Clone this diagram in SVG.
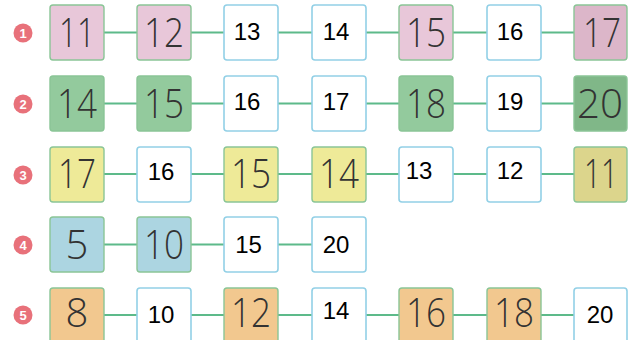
<svg xmlns="http://www.w3.org/2000/svg" width="636" height="340" viewBox="0 0 636 340">
<style>
.bg{fill:#ffffff}
.w rect{fill:#ffffff;stroke:#92d0e6;stroke-width:1.6}
.c rect{stroke:#8ac596;stroke-width:1.4}
.pk rect{fill:#e8c7d9}
.pk2 rect{fill:#dcb6c9}
.gr rect{fill:#93ca9d}
.gr2 rect{fill:#80b788}
.ye rect{fill:#eeea98}
.ye2 rect{fill:#dcd58c}
.bl rect{fill:#acd5e1}
.or rect{fill:#f2c88f}
.c text{font-family:"Open Sans","Liberation Sans",Arial,sans-serif;font-weight:300;font-size:40px;fill:#333;text-anchor:middle}
.w text{font-family:"Liberation Sans",Arial,sans-serif;font-size:24px;fill:#000;text-anchor:middle}
.lbl circle{fill:#e8717a}
.lbl text{font-family:"Liberation Sans",Arial,sans-serif;font-size:13px;font-weight:bold;fill:#fff;text-anchor:middle}
#connectors line{stroke:#5dba8a;stroke-width:2}
</style>
<rect class="bg" x="0" y="0" width="636" height="340"/>
<g id="connectors">
<line x1="104" y1="32.5" x2="137" y2="32.5"/><line x1="191" y1="32.5" x2="224" y2="32.5"/><line x1="278" y1="32.5" x2="312" y2="32.5"/><line x1="366" y1="32.5" x2="399" y2="32.5"/><line x1="453" y1="32.5" x2="487" y2="32.5"/><line x1="541" y1="32.5" x2="574" y2="32.5"/>
<line x1="104" y1="103.5" x2="137" y2="103.5"/><line x1="191" y1="103.5" x2="224" y2="103.5"/><line x1="278" y1="103.5" x2="312" y2="103.5"/><line x1="366" y1="103.5" x2="399" y2="103.5"/><line x1="453" y1="103.5" x2="487" y2="103.5"/><line x1="541" y1="103.5" x2="574" y2="103.5"/>
<line x1="104" y1="174" x2="137" y2="174"/><line x1="191" y1="174" x2="224" y2="174"/><line x1="278" y1="174" x2="312" y2="174"/><line x1="366" y1="174" x2="399" y2="174"/><line x1="453" y1="174" x2="487" y2="174"/><line x1="541" y1="174" x2="574" y2="174"/>
<line x1="104" y1="244.5" x2="137" y2="244.5"/><line x1="191" y1="244.5" x2="224" y2="244.5"/><line x1="278" y1="244.5" x2="312" y2="244.5"/>
<line x1="104" y1="315" x2="137" y2="315"/><line x1="191" y1="315" x2="224" y2="315"/><line x1="278" y1="315" x2="312" y2="315"/><line x1="366" y1="315" x2="399" y2="315"/><line x1="453" y1="315" x2="487" y2="315"/><line x1="541" y1="315" x2="574" y2="315"/>
</g>
<g class="lbl">
<g id="label1"><circle cx="23" cy="33" r="9.5"/><text x="23" y="37.5">1</text></g>
<g id="label2"><circle cx="23" cy="104" r="9.5"/><text x="23" y="108.5">2</text></g>
<g id="label3"><circle cx="23" cy="175" r="9.5"/><text x="23" y="179.5">3</text></g>
<g id="label4"><circle cx="23" cy="245" r="9.5"/><text x="23" y="249.5">4</text></g>
<g id="label5"><circle cx="23" cy="315" r="9.5"/><text x="23" y="319.5">5</text></g>
</g>
<!-- Row 1 -->
<g id="r1c1" class="c pk"><rect x="50" y="5" width="54" height="55" rx="3"/><text x="77" y="47" textLength="36" lengthAdjust="spacingAndGlyphs">11</text></g>
<g id="r1c2" class="c pk"><rect x="137" y="5" width="54" height="55" rx="3"/><text x="164" y="47" textLength="40" lengthAdjust="spacingAndGlyphs">12</text></g>
<g id="r1c3" class="w"><rect x="224" y="5" width="54" height="55" rx="3"/><text x="247" y="40">13</text></g>
<g id="r1c4" class="w"><rect x="312" y="5" width="54" height="55" rx="3"/><text x="336" y="40">14</text></g>
<g id="r1c5" class="c pk"><rect x="399" y="5" width="54" height="55" rx="3"/><text x="426" y="47" textLength="40" lengthAdjust="spacingAndGlyphs">15</text></g>
<g id="r1c6" class="w"><rect x="487" y="5" width="54" height="55" rx="3"/><text x="510" y="40">16</text></g>
<g id="r1c7" class="c pk2"><rect x="574" y="5" width="53" height="55" rx="3"/><text x="602" y="47" textLength="38" lengthAdjust="spacingAndGlyphs">17</text></g>
<!-- Row 2 -->
<g id="r2c1" class="c gr"><rect x="50" y="76" width="54" height="55" rx="3"/><text x="77" y="118" textLength="40" lengthAdjust="spacingAndGlyphs">14</text></g>
<g id="r2c2" class="c gr"><rect x="137" y="76" width="54" height="55" rx="3"/><text x="164" y="118" textLength="40" lengthAdjust="spacingAndGlyphs">15</text></g>
<g id="r2c3" class="w"><rect x="224" y="76" width="54" height="55" rx="3"/><text x="247" y="110">16</text></g>
<g id="r2c4" class="w"><rect x="312" y="76" width="54" height="55" rx="3"/><text x="336" y="110">17</text></g>
<g id="r2c5" class="c gr"><rect x="399" y="76" width="54" height="55" rx="3"/><text x="426" y="118" textLength="40" lengthAdjust="spacingAndGlyphs">18</text></g>
<g id="r2c6" class="w"><rect x="487" y="76" width="54" height="55" rx="3"/><text x="510" y="110">19</text></g>
<g id="r2c7" class="c gr2"><rect x="574" y="76" width="53" height="55" rx="3"/><text x="600" y="118" textLength="46" lengthAdjust="spacingAndGlyphs">20</text></g>
<!-- Row 3 -->
<g id="r3c1" class="c ye"><rect x="50" y="147" width="54" height="55" rx="3"/><text x="77" y="188" textLength="38" lengthAdjust="spacingAndGlyphs">17</text></g>
<g id="r3c2" class="w"><rect x="137" y="147" width="54" height="55" rx="3"/><text x="161" y="180">16</text></g>
<g id="r3c3" class="c ye"><rect x="224" y="147" width="54" height="55" rx="3"/><text x="251" y="188" textLength="40" lengthAdjust="spacingAndGlyphs">15</text></g>
<g id="r3c4" class="c ye"><rect x="312" y="147" width="54" height="55" rx="3"/><text x="339" y="188" textLength="40" lengthAdjust="spacingAndGlyphs">14</text></g>
<g id="r3c5" class="w"><rect x="399" y="147" width="54" height="55" rx="3"/><text x="419" y="179">13</text></g>
<g id="r3c6" class="w"><rect x="487" y="147" width="54" height="55" rx="3"/><text x="510" y="179">12</text></g>
<g id="r3c7" class="c ye2"><rect x="574" y="147" width="53" height="55" rx="3"/><text x="601" y="188" textLength="34" lengthAdjust="spacingAndGlyphs">11</text></g>
<!-- Row 4 -->
<g id="r4c1" class="c bl"><rect x="50" y="217" width="54" height="55" rx="3"/><text x="77" y="259">5</text></g>
<g id="r4c2" class="c bl"><rect x="137" y="217" width="54" height="55" rx="3"/><text x="164" y="259" textLength="40" lengthAdjust="spacingAndGlyphs">10</text></g>
<g id="r4c3" class="w"><rect x="224" y="217" width="54" height="55" rx="3"/><text x="248.5" y="253">15</text></g>
<g id="r4c4" class="w"><rect x="312" y="217" width="54" height="55" rx="3"/><text x="336" y="253">20</text></g>
<!-- Row 5 -->
<g id="r5c1" class="c or"><rect x="50" y="288" width="54" height="55" rx="3"/><text x="77" y="327">8</text></g>
<g id="r5c2" class="w"><rect x="137" y="288" width="54" height="55" rx="3"/><text x="161" y="323">10</text></g>
<g id="r5c3" class="c or"><rect x="224" y="288" width="54" height="55" rx="3"/><text x="251" y="327" textLength="40" lengthAdjust="spacingAndGlyphs">12</text></g>
<g id="r5c4" class="w"><rect x="312" y="288" width="54" height="55" rx="3"/><text x="336" y="319">14</text></g>
<g id="r5c5" class="c or"><rect x="399" y="288" width="54" height="55" rx="3"/><text x="426" y="327" textLength="40" lengthAdjust="spacingAndGlyphs">16</text></g>
<g id="r5c6" class="c or"><rect x="487" y="288" width="54" height="55" rx="3"/><text x="514" y="327" textLength="40" lengthAdjust="spacingAndGlyphs">18</text></g>
<g id="r5c7" class="w"><rect x="574" y="288" width="53" height="55" rx="3"/><text x="600" y="323">20</text></g>
</svg>
